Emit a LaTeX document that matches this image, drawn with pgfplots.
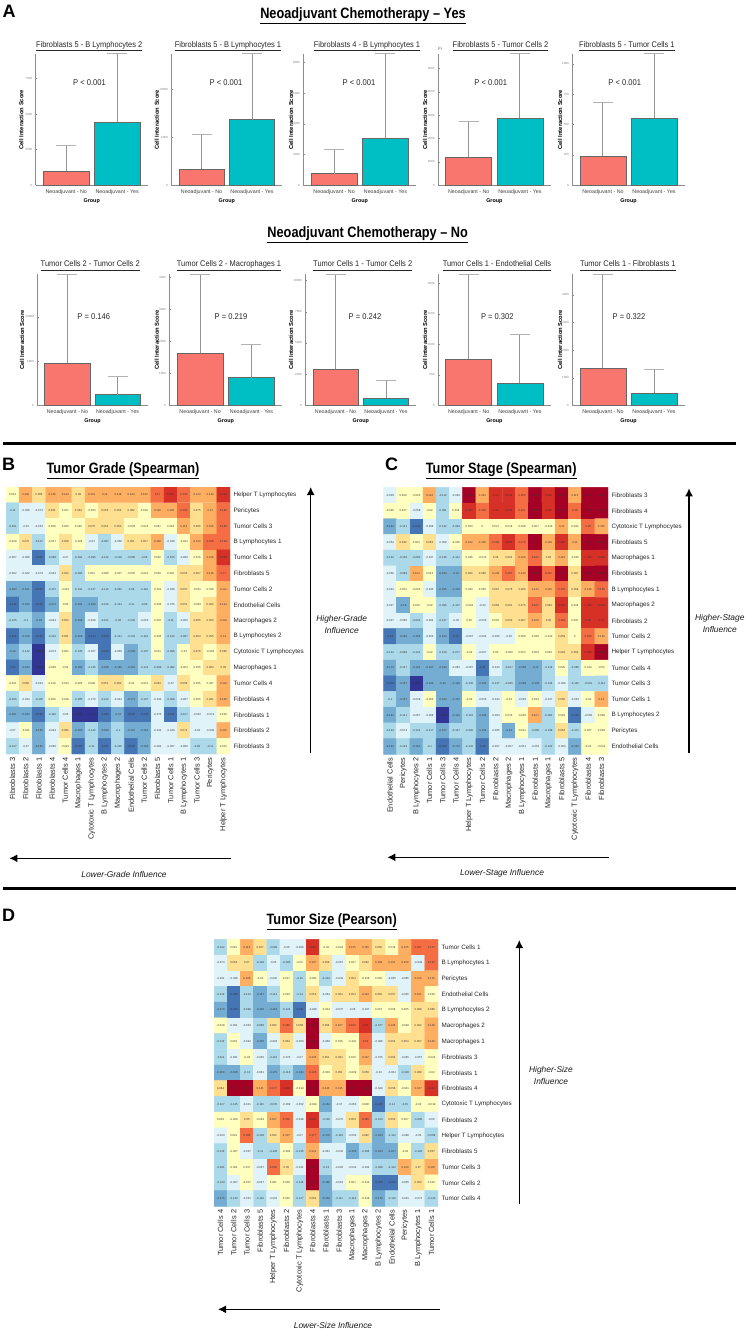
\documentclass[border=0pt]{standalone}
\usepackage{pgfplots}
\usepackage{pgfplotstable}
\usepackage{fontspec}
\pgfplotsset{compat=1.18}
\usetikzlibrary{arrows.meta}
\setmainfont{Liberation Sans}
\definecolor{redbar}{HTML}{F8766D}
\definecolor{tealbar}{HTML}{00BFC4}

% discrete RdYlBu, 24 bins of 0.025 from -0.3 to 0.3
\pgfplotsset{
  colormap={hm}{
    rgb255=(49,54,149) rgb255=(49,54,149)
    rgb255=(69,117,180) rgb255=(69,117,180)
    rgb255=(116,173,209) rgb255=(116,173,209)
    rgb255=(171,217,233) rgb255=(171,217,233) rgb255=(171,217,233)
    rgb255=(224,243,248) rgb255=(224,243,248)
    rgb255=(255,255,191) rgb255=(255,255,191) rgb255=(255,255,191)
    rgb255=(254,224,144) rgb255=(254,224,144)
    rgb255=(253,174,97) rgb255=(253,174,97)
    rgb255=(244,109,67) rgb255=(244,109,67)
    rgb255=(215,48,39) rgb255=(215,48,39)
    rgb255=(165,0,38) rgb255=(165,0,38)
  },
  panel/.style n args={5}{
    scale only axis, clip=false,
    anchor=south west, at={(#1pt,-#3pt)}, width=#2pt, height=#4pt,
    xmin=0.4, xmax=2.6, ymin=0,
    axis x line*=bottom, axis y line*=left,
    axis line style={draw=black!45, line width=0.7pt},
    xtick={1,2}, xticklabels={Neoadjuvant - No, Neoadjuvant - Yes},
    x tick label style={font=\fontsize{5.3}{6}\selectfont, text=black!75, yshift=-1pt},
    y tick label style={font=\fontsize{3}{3}\selectfont, text=black!50, /pgf/number format/assume math mode=true,
      /pgf/number format/set thousands separator={}},
    scaled y ticks=false,
    major tick length=1.5pt, tick style={draw=black!45, line width=0.4pt},
    xlabel={Group}, ylabel={Cell Interaction Score},
    every axis x label/.style={at={(axis description cs:0.5,0)}, yshift=-16pt, anchor=center, font=\fontsize{5.4}{6}\bfseries},
    every axis y label/.style={at={(axis description cs:0,0.5)}, xshift=-#5pt, rotate=90, anchor=center, font=\fontsize{5.8}{6}\bfseries},
  },
  rbar/.style={ybar, bar shift=0pt, bar width=0.9, fill=redbar, draw=black!60, line width=0.7pt, forget plot,
    error bars/.cd, y dir=plus, y explicit,
    error bar style={color=black!42, line width=1pt},
    error mark options={color=black!30, rotate=90, mark size=10pt, line width=0.9pt}},
  tbar/.style={ybar, bar shift=0pt, bar width=0.9, fill=tealbar, draw=black!60, line width=0.7pt, forget plot,
    error bars/.cd, y dir=plus, y explicit,
    error bar style={color=black!42, line width=1pt},
    error mark options={color=black!30, rotate=90, mark size=10pt, line width=0.9pt}},
}

\newcommand{\hm}[7]{% x y w h table collabels rowlabels
\begin{axis}[
  scale only axis, anchor=south west, at={(#1pt,-#2pt)}, width=#3pt, height=#4pt,
  y dir=reverse, xmin=-0.5, xmax=16.5, ymin=-0.5, ymax=16.5,
  colormap name=hm, colormap access=piecewise constant,
  point meta min=-0.3, point meta max=0.3,
  axis line style={draw=none}, major tick length=0pt,
  xtick={0,...,16}, ytick={0,...,16},
  xticklabels={#6}, yticklabels={#7},
  yticklabel pos=right,
  x tick label style={rotate=90, anchor=east, font=\fontsize{7.4}{8}\selectfont, text=black!85},
  y tick label style={font=\fontsize{6.3}{7}\selectfont, text=black!85},
]
\addplot[matrix plot*, mesh/cols=17, point meta=explicit] table[x index=0, y index=0,
  x expr={mod(\coordindex,17)}, y expr={floor((\coordindex+0.5)/17)}, meta=v] {#5};
\addplot[draw=none, mark=none, point meta=explicit symbolic,
  nodes near coords={\pgfplotspointmeta},
  every node near coord/.append style={anchor=center, inner sep=0pt, font=\fontsize{2.8}{3}\selectfont, text=black!80}
  ] table[x index=0, y index=0, x expr={mod(\coordindex,17)}, y expr={floor((\coordindex+0.5)/17)}, meta=v] {#5};
\end{axis}}

% the y given to these three is the baseline of the text
\newcommand{\ttl}[3]{\node[anchor=base, font=\fontsize{8.2}{9}\selectfont, text=black!85] at (#1pt,-#2pt) {\scalebox{0.91}[1]{\underline{#3\vphantom{p}}}};}
\newcommand{\ptxt}[3]{\node[anchor=base, font=\fontsize{8.4}{9}\selectfont, text=black!85] at (#1pt,-#2pt) {\scalebox{0.9}[1]{#3}};}
\newcommand{\head}[3]{\node[anchor=base, font=\fontsize{15}{16}\bfseries] at (#1pt,-#2pt) {\scalebox{0.85}[1]{\underline{#3\vphantom{p}}}};}
\newcommand{\letter}[3]{\node[font=\fontsize{18}{18}\bfseries, inner sep=0pt, anchor=west] at (#1pt,-#2pt) {#3};}
\newcommand{\itl}[3]{\node[font=\fontsize{8.4}{12}\itshape, align=center, text=black!90] at (#1pt,-#2pt) {#3};}
\tikzset{inflarrow/.style={line width=1.4pt, -{Latex[length=8pt,width=8pt]}}}

% correlations, read row by row (17 columns, top row first)
\pgfplotstableread[row sep=\\]{
v\\
0.031\\0.135\\0.085\\0.146\\0.144\\0.08\\0.101\\0.14\\0.119\\0.104\\0.132\\0.17\\0.216\\0.193\\0.143\\0.149\\0.222\\
-0.11\\-0.036\\-0.074\\0.061\\0.017\\0.064\\-0.003\\0.055\\0.053\\0.062\\0.019\\0.116\\0.105\\0.153\\0.075\\0.11\\0.182\\
-0.091\\-0.03\\-0.053\\0.008\\0.023\\0.025\\0.075\\0.054\\0.055\\-0.003\\-0.023\\0.037\\0.019\\0.113\\0.066\\0.105\\0.183\\
-0.019\\0.075\\-0.107\\-0.017\\0.058\\-0.024\\-0.03\\-0.097\\-0.058\\0.051\\0.057\\0.108\\-0.049\\-0.021\\0.133\\0.168\\0.198\\
-0.067\\-0.068\\-0.211\\-0.098\\-0.07\\-0.092\\-0.095\\-0.122\\-0.118\\-0.085\\-0.08\\0.032\\-0.105\\-0.069\\0.015\\0.106\\0.216\\
-0.062\\-0.042\\-0.073\\-0.042\\0.054\\-0.085\\0.011\\-0.006\\-0.007\\-0.005\\-0.021\\0.016\\0.002\\0.055\\0.067\\0.116\\0.17\\
-0.193\\-0.161\\-0.244\\-0.107\\-0.021\\-0.131\\-0.137\\-0.119\\-0.082\\-0.09\\-0.116\\-0.021\\-0.039\\0.057\\-0.021\\0.019\\0.112\\
-0.211\\-0.163\\-0.244\\-0.171\\-0.02\\-0.164\\-0.168\\-0.126\\-0.144\\-0.11\\-0.09\\-0.005\\-0.075\\0.051\\-0.003\\0.062\\0.144\\
-0.135\\-0.1\\-0.16\\-0.044\\0.054\\-0.159\\-0.029\\-0.101\\-0.08\\-0.105\\-0.063\\-0.007\\-0.11\\-0.056\\0.055\\0.053\\0.119\\
-0.231\\-0.159\\-0.245\\-0.122\\0.051\\-0.169\\-0.213\\-0.213\\-0.141\\-0.125\\-0.119\\-0.005\\-0.122\\-0.087\\0.054\\0.055\\0.14\\
-0.19\\-0.142\\-0.282\\-0.073\\0.004\\-0.135\\-0.067\\-0.213\\-0.059\\-0.168\\-0.137\\0.011\\-0.095\\-0.01\\0.076\\-0.003\\0.095\\
-0.23\\-0.183\\-0.304\\-0.005\\-0.02\\-0.182\\-0.135\\-0.188\\-0.169\\-0.164\\-0.131\\-0.099\\-0.092\\-0.004\\0.035\\0.064\\0.09\\
-0.021\\0.065\\-0.043\\0.019\\0.014\\-0.025\\0.008\\0.051\\0.054\\-0.02\\-0.021\\0.054\\-0.07\\0.059\\0.035\\0.047\\0.119\\
-0.095\\-0.034\\-0.116\\0.006\\0.019\\-0.085\\-0.073\\-0.122\\-0.044\\-0.171\\-0.107\\-0.042\\-0.098\\-0.067\\0.005\\0.061\\0.146\\
-0.181\\-0.183\\-0.219\\-0.116\\-0.05\\-0.331\\-0.282\\-0.245\\-0.16\\-0.245\\-0.245\\-0.075\\-0.211\\-0.107\\-0.053\\-0.074\\0.016\\
-0.07\\-0.011\\-0.165\\-0.034\\0.085\\-0.163\\-0.142\\-0.169\\-0.1\\-0.152\\-0.161\\-0.042\\-0.049\\0.071\\-0.03\\-0.039\\0.115\\
-0.137\\-0.07\\-0.181\\-0.065\\-0.021\\-0.224\\-0.11\\-0.221\\-0.135\\-0.245\\-0.193\\-0.062\\-0.067\\-0.068\\-0.08\\-0.11\\0.001\\
}\gradetbl

\pgfplotstableread[row sep=\\]{
v\\
-0.029\\0.009\\-0.025\\0.104\\-0.112\\-0.029\\0.285\\0.131\\0.23\\0.244\\0.165\\0.306\\0.224\\0.324\\0.115\\0.281\\0.274\\
-0.025\\0.007\\-0.058\\-0.02\\-0.091\\0.014\\0.232\\0.169\\0.22\\0.231\\0.161\\0.302\\0.219\\0.275\\0.16\\0.311\\0.301\\
-0.194\\-0.121\\-0.243\\-0.058\\-0.132\\-0.094\\0.003\\0\\0.027\\0.016\\0.038\\0.007\\-0.015\\0.11\\0.043\\0.16\\0.115\\
-0.054\\0.062\\0.003\\0.052\\-0.059\\-0.025\\0.102\\0.105\\0.169\\0.225\\0.176\\0.31\\0.118\\0.225\\0.11\\0.271\\0.324\\
-0.122\\-0.138\\-0.082\\-0.047\\-0.136\\-0.141\\0.046\\-0.013\\0.06\\0.054\\0.105\\0.181\\0.06\\0.115\\-0.015\\0.245\\0.248\\
-0.056\\-0.089\\0.101\\0.013\\-0.193\\-0.16\\0.069\\0.066\\0.109\\0.167\\0.143\\0.298\\0.151\\0.31\\0.067\\0.303\\0.305\\
-0.031\\-0.011\\-0.025\\-0.035\\-0.165\\-0.159\\0.044\\0.035\\0.087\\0.076\\0.086\\0.142\\0.105\\0.175\\0.059\\0.148\\0.165\\
-0.027\\-0.16\\0.015\\-0.02\\-0.095\\-0.107\\-0.024\\-0.04\\0.062\\0.061\\0.075\\0.187\\0.084\\0.225\\0.016\\0.245\\0.244\\
-0.037\\-0.065\\-0.094\\-0.064\\-0.137\\-0.05\\0.02\\-0.053\\0.025\\0.052\\0.087\\0.109\\0.06\\0.189\\0.037\\0.22\\0.21\\
-0.22\\-0.169\\-0.156\\-0.053\\-0.193\\-0.21\\-0.057\\-0.064\\-0.065\\-0.05\\0.006\\0.046\\-0.013\\0.059\\0\\0.155\\0.131\\
-0.142\\-0.089\\-0.101\\-0.02\\-0.129\\-0.077\\-0.02\\-0.067\\0.02\\-0.025\\0.004\\0.009\\0.004\\0.092\\0.053\\0.245\\0.265\\
-0.173\\-0.147\\-0.191\\-0.187\\-0.199\\-0.064\\-0.067\\-0.21\\-0.043\\-0.107\\-0.158\\-0.16\\-0.119\\0.025\\-0.086\\0.014\\-0.02\\
-0.208\\-0.157\\-0.262\\-0.189\\-0.16\\-0.199\\-0.135\\-0.193\\-0.137\\-0.095\\-0.168\\-0.193\\-0.134\\-0.069\\-0.132\\-0.091\\-0.112\\
-0.1\\-0.157\\-0.039\\-0.003\\-0.169\\-0.167\\-0.02\\-0.053\\-0.044\\-0.02\\-0.035\\0.013\\-0.047\\0.055\\-0.053\\-0.02\\0.14\\
-0.191\\-0.141\\-0.067\\-0.058\\-0.282\\-0.191\\-0.101\\-0.186\\-0.064\\0.015\\-0.025\\0.101\\-0.082\\0.003\\-0.215\\-0.058\\0.028\\
-0.133\\-0.074\\-0.131\\-0.117\\-0.157\\-0.147\\-0.095\\-0.169\\-0.065\\-0.16\\-0.011\\-0.085\\-0.138\\0.052\\-0.101\\0.007\\0.009\\
-0.191\\-0.123\\-0.161\\-0.1\\-0.208\\-0.173\\-0.142\\-0.22\\-0.067\\-0.057\\-0.051\\-0.054\\-0.122\\-0.054\\-0.184\\-0.02\\-0.021\\
}\stagetbl

\pgfplotstableread[row sep=\\]{
v\\
-0.142\\0.015\\0.115\\0.057\\-0.099\\-0.06\\-0.056\\0.202\\-0.02\\-0.024\\0.125\\0.135\\0.055\\0.019\\0.125\\0.167\\0.157\\
-0.073\\0.053\\0.07\\-0.128\\-0.05\\-0.086\\-0.02\\0.107\\0.059\\-0.067\\0.047\\0.062\\0.108\\0.101\\0.109\\-0.049\\0.167\\
-0.031\\-0.038\\0.109\\-0.02\\-0.045\\0.017\\-0.15\\-0.021\\-0.104\\-0.049\\0.054\\-0.018\\0.005\\-0.035\\-0.065\\0.109\\0.125\\
-0.113\\-0.206\\-0.104\\-0.167\\-0.114\\0.023\\-0.14\\0.053\\-0.064\\0.054\\0.054\\0.124\\0.055\\0.057\\-0.035\\0.101\\0.016\\
-0.179\\-0.209\\-0.098\\-0.156\\-0.164\\-0.124\\-0.231\\-0.049\\-0.024\\-0.075\\-0.06\\-0.037\\0.007\\0.009\\0.005\\0.088\\0.086\\
-0.018\\-0.051\\-0.054\\-0.086\\0.052\\0.169\\0.058\\0.316\\0.056\\0.107\\0.159\\0.23\\-0.077\\0.126\\-0.018\\0.062\\0.126\\
-0.113\\0.001\\-0.042\\-0.155\\-0.033\\0.053\\-0.053\\0.301\\-0.069\\0.015\\-0.011\\0.16\\-0.068\\0.054\\0.054\\0.057\\0.125\\
-0.111\\-0.061\\-0.02\\-0.045\\-0.115\\-0.073\\-0.07\\0.135\\0.051\\0.054\\0.015\\0.107\\-0.075\\0.054\\-0.045\\-0.057\\-0.024\\
-0.169\\-0.166\\-0.13\\-0.061\\-0.178\\-0.118\\-0.184\\0.165\\-0.003\\0.051\\-0.009\\0.056\\-0.03\\-0.064\\-0.108\\0.069\\-0.02\\
0.064\\0.37\\0.273\\0.141\\0.177\\0.216\\-0.019\\0.276\\0.145\\0.125\\0.281\\0.316\\-0.049\\0.058\\-0.021\\0.107\\0.232\\
-0.127\\-0.125\\-0.031\\-0.115\\-0.078\\-0.069\\-0.052\\-0.019\\-0.164\\-0.07\\-0.063\\0.008\\-0.223\\-0.14\\-0.15\\-0.02\\-0.019\\
0.002\\-0.009\\0.05\\-0.024\\0.107\\0.158\\-0.039\\0.234\\-0.118\\-0.075\\0.053\\0.169\\-0.124\\0.053\\0.007\\-0.095\\-0.06\\
-0.034\\0.021\\0.186\\-0.128\\0.052\\0.107\\-0.07\\0.177\\-0.178\\-0.116\\-0.033\\0.082\\-0.164\\-0.114\\-0.068\\-0.05\\-0.089\\
-0.113\\-0.007\\-0.037\\-0.11\\-0.128\\-0.004\\-0.135\\0.141\\-0.061\\-0.045\\-0.155\\-0.096\\-0.164\\-0.167\\-0.02\\-0.128\\0.057\\
-0.091\\-0.001\\0.017\\-0.037\\0.168\\0.05\\-0.031\\0.273\\-0.13\\-0.026\\-0.042\\-0.044\\-0.098\\-0.114\\0.109\\0.07\\0.118\\
-0.133\\-0.067\\-0.007\\-0.027\\0.021\\0.009\\-0.118\\0.27\\-0.166\\-0.061\\0.001\\-0.014\\-0.209\\-0.206\\-0.035\\0.053\\0.016\\
-0.176\\-0.133\\-0.051\\-0.113\\-0.034\\0.002\\-0.127\\0.064\\-0.159\\-0.111\\-0.113\\-0.018\\-0.179\\-0.113\\-0.031\\-0.073\\-0.142\\
}\sizetbl

\begin{document}
\begin{tikzpicture}
\useasboundingbox (0,0) rectangle (747pt,-1331pt);

\letter{2.5}{11}{A}
\head{363}{18.3}{Neoadjuvant Chemotherapy -- Yes}
\head{367.7}{237.7}{Neoadjuvant Chemotherapy -- No}

% panel A, top row
\begin{axis}[panel={35.7}{112}{185.3}{131.3}{14.4}, ymax=9203, ytick={0,2500,5000,7500}]
\addplot[rbar] coordinates {(1,981) +- (0,1822)};
\addplot[tbar] coordinates {(2,4415) +- (0,4836)};
\end{axis}
\begin{axis}[panel={171.3}{111}{185.3}{131.3}{14.6}, ymax=13677, ytick={0,5000,10000}]
\addplot[rbar] coordinates {(1,1667) +- (0,3604)};
\addplot[tbar] coordinates {(2,6833) +- (0,6917)};
\end{axis}
\begin{axis}[panel={303.3}{113}{185.3}{131.3}{12.3}, ymax=8540, ytick={0,2000,4000,6000,8000}]
\addplot[rbar] coordinates {(1,755) +- (0,1586)};
\addplot[tbar] coordinates {(2,3057) +- (0,5528)};
\end{axis}
\begin{axis}[panel={438}{112.7}{185.3}{131.3}{13}, ymax=5611, ytick={0,1000,2000,3000,4000,5000}]
\addplot[rbar] coordinates {(1,1197) +- (0,1538)};
\addplot[tbar] coordinates {(2,2863) +- (0,2778)};
\end{axis}
\begin{axis}[panel={572.3}{112.4}{185.3}{131.3}{12.3}, ymax=1080, ytick={0,250,500,750,1000}]
\addplot[rbar] coordinates {(1,238) +- (0,447)};
\addplot[tbar] coordinates {(2,551) +- (0,535)};
\end{axis}
\ttl{89.2}{47.2}{Fibroblasts 5 - B Lymphocytes 2}
\ttl{228}{47.2}{Fibroblasts 5 - B Lymphocytes 1}
\ttl{367}{47.2}{Fibroblasts 4 - B Lymphocytes 1}
\ttl{500.5}{47.2}{Fibroblasts 5 - Tumor Cells 2}
\ttl{626.8}{47.2}{Fibroblasts 5 - Tumor Cells 1}
\ptxt{89.5}{85.3}{P < 0.001}
\ptxt{226}{85.3}{P < 0.001}
\ptxt{359}{85.3}{P < 0.001}
\ptxt{490.7}{85.3}{P < 0.001}
\ptxt{624.7}{85.3}{P < 0.001}
\node[font=\fontsize{4.5}{5}\selectfont, text=black!60] at (440pt,-48.5pt) {Fi};

% panel A, bottom row
\begin{axis}[panel={37.3}{110.4}{405.3}{131}{15.3}, ymax=14786, ytick={0,5000,10000}]
\addplot[rbar] coordinates {(1,4740) +- (0,10046)};
\addplot[tbar] coordinates {(2,1204) +- (0,2035)};
\end{axis}
\begin{axis}[panel={169.3}{113}{405.3}{131}{12.6}, ymax=4094, ytick={0,1000,2000,3000,4000}]
\addplot[rbar] coordinates {(1,1635) +- (0,2459)};
\addplot[tbar] coordinates {(2,865) +- (0,1041)};
\end{axis}
\begin{axis}[panel={305.3}{111}{405.3}{131}{14.3}, ymax=10497, ytick={0,2500,5000,7500,10000}]
\addplot[rbar] coordinates {(1,2885) +- (0,7615)};
\addplot[tbar] coordinates {(2,561) +- (0,1442)};
\end{axis}
\begin{axis}[panel={438}{112.7}{405.3}{131}{13}, ymax=2148, ytick={0,500,1000,1500,2000}]
\addplot[rbar] coordinates {(1,754) +- (0,1394)};
\addplot[tbar] coordinates {(2,361) +- (0,803)};
\end{axis}
\begin{axis}[panel={572.3}{112.4}{405.3}{131}{12.3}, ymax=4746, ytick={0,1000,2000,3000,4000}]
\addplot[rbar] coordinates {(1,1341) +- (0,3405)};
\addplot[tbar] coordinates {(2,435) +- (0,881)};
\end{axis}
\ttl{90.2}{266.7}{Tumor Cells 2 - Tumor Cells 2}
\ttl{229}{266.7}{Tumor Cells 2 - Macrophages 1}
\ttl{362.7}{266.7}{Tumor Cells 1 - Tumor Cells 2}
\ttl{497}{266.7}{Tumor Cells 1 - Endothelial Cells}
\ttl{627.8}{266.7}{Tumor Cells 1 - Fibroblasts 1}
\ptxt{93.7}{319.6}{P = 0.146}
\ptxt{231}{319.6}{P = 0.219}
\ptxt{365}{319.6}{P = 0.242}
\ptxt{497.3}{319.6}{P = 0.302}
\ptxt{629}{319.6}{P = 0.322}

\draw[line width=2.6pt] (3pt,-443.7pt) -- (735.7pt,-443.7pt);
\draw[line width=2.6pt] (3pt,-888.5pt) -- (735.7pt,-888.5pt);

% panel B
\letter{2}{464}{B}
\head{123}{473.3}{Tumor Grade (Spearman)}
\hm{6}{754}{224}{267}{\gradetbl}
{Fibroblasts 3,Fibroblasts 2,Fibroblasts 1,Fibroblasts 4,Tumor Cells 4,Macrophages 1,Cytotoxic T Lymphocytes,B Lymphocytes 2,Macrophages 2,Endothelial Cells,Tumor Cells 2,Fibroblasts 5,Tumor Cells 1,B Lymphocytes 1,Tumor Cells 3,Pericytes,Helper T Lymphocytes}
{Helper T Lymphocytes,Pericytes,Tumor Cells 3,B Lymphocytes 1,Tumor Cells 1,Fibroblasts 5,Tumor Cells 2,Endothelial Cells,Macrophages 2,B Lymphocytes 2,Cytotoxic T Lymphocytes,Macrophages 1,Tumor Cells 4,Fibroblasts 4,Fibroblasts 1,Fibroblasts 2,Fibroblasts 3}
\draw[inflarrow] (310.7pt,-753.3pt) -- (310.7pt,-487pt);
\draw[inflarrow] (231pt,-858.3pt) -- (9.3pt,-858.3pt);
\itl{341.7}{624}{Higher-Grade\\Influence}
\itl{124}{874.7}{Lower-Grade Influence}

% panel C
\letter{385}{464}{C}
\head{501.2}{473.3}{Tumor Stage (Spearman)}
\hm{383.3}{754.3}{224.7}{267}{\stagetbl}
{Endothelial Cells,Pericytes,B Lymphocytes 2,Tumor Cells 1,Tumor Cells 3,Tumor Cells 4,Helper T Lymphocytes,Tumor Cells 2,Fibroblasts 2,Macrophages 2,B Lymphocytes 1,Fibroblasts 1,Macrophages 1,Fibroblasts 5,Cytotoxic T Lymphocytes,Fibroblasts 4,Fibroblasts 3}
{Fibroblasts 3,Fibroblasts 4,Cytotoxic T Lymphocytes,Fibroblasts 5,Macrophages 1,Fibroblasts 1,B Lymphocytes 1,Macrophages 2,Fibroblasts 2,Tumor Cells 2,Helper T Lymphocytes,Tumor Cells 4,Tumor Cells 3,Tumor Cells 1,B Lymphocytes 2,Pericytes,Endothelial Cells}
\draw[inflarrow] (689pt,-752.7pt) -- (689pt,-488.3pt);
\draw[inflarrow] (609.3pt,-857.3pt) -- (387.3pt,-857.3pt);
\itl{719.8}{623.3}{Higher-Stage\\Influence}
\itl{502}{873.3}{Lower-Stage Influence}

% panel D
\letter{2}{915}{D}
\head{331.7}{924.3}{Tumor Size (Pearson)}
\hm{214}{1206.3}{224}{267}{\sizetbl}
{Tumor Cells 4,Tumor Cells 2,Tumor Cells 3,Fibroblasts 5,Helper T Lymphocytes,Fibroblasts 2,Cytotoxic T Lymphocytes,Fibroblasts 4,Fibroblasts 1,Fibroblasts 3,Macrophages 1,Macrophages 2,B Lymphocytes 2,Endothelial Cells,Pericytes,B Lymphocytes 1,Tumor Cells 1}
{Tumor Cells 1,B Lymphocytes 1,Pericytes,Endothelial Cells,B Lymphocytes 2,Macrophages 2,Macrophages 1,Fibroblasts 3,Fibroblasts 1,Fibroblasts 4,Cytotoxic T Lymphocytes,Fibroblasts 2,Helper T Lymphocytes,Fibroblasts 5,Tumor Cells 3,Tumor Cells 2,Tumor Cells 4}
\draw[inflarrow] (519.3pt,-1204.3pt) -- (519.3pt,-940pt);
\draw[inflarrow] (440pt,-1309.3pt) -- (218pt,-1309.3pt);
\itl{551}{1075}{Higher-Size\\Influence}
\itl{333}{1325.3}{Lower-Size Influence}
\end{tikzpicture}
\end{document}
